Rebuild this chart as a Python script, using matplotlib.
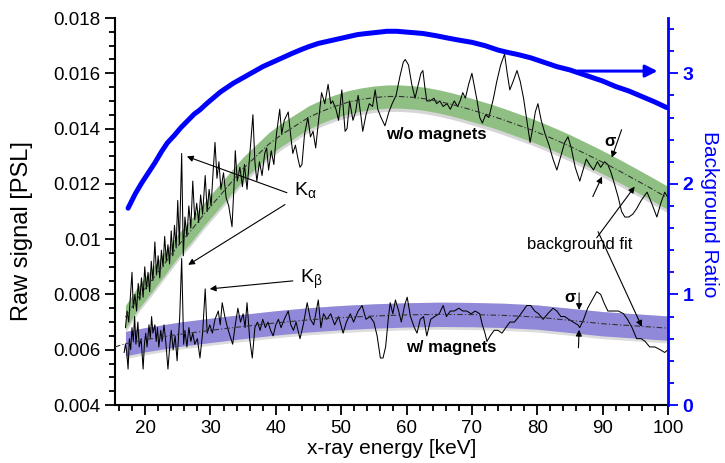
import numpy as np
import matplotlib
matplotlib.use("Agg")
import matplotlib.pyplot as plt

plt.rcParams['font.family'] = ['Liberation Sans', 'DejaVu Sans']
plt.rcParams['mathtext.fontset'] = 'custom'
plt.rcParams['mathtext.rm'] = 'Liberation Sans'
plt.rcParams['mathtext.it'] = 'Liberation Sans'

# raw signal, w/o magnets  (energy keV, PSL)
trace_wo = [
    (17.0, 0.0068), (17.25, 0.0074), (17.5, 0.0070), (17.75, 0.0079), (18.0, 0.0088),
    (18.2, 0.0075), (18.45, 0.0080), (18.7, 0.0074), (18.95, 0.0084), (19.2, 0.0078),
    (19.45, 0.0086), (19.7, 0.0079), (19.95, 0.0090), (20.2, 0.0082), (20.45, 0.0088),
    (20.7, 0.0081), (20.95, 0.0092), (21.2, 0.0085), (21.5, 0.0099), (21.75, 0.0087),
    (22.0, 0.0094), (22.25, 0.0086), (22.5, 0.0096), (22.75, 0.0090), (23.0, 0.0101),
    (23.25, 0.0092), (23.5, 0.0098), (23.75, 0.0091), (24.0, 0.0103), (24.25, 0.0094),
    (24.5, 0.0105), (24.75, 0.0097), (25.0, 0.0114), (25.25, 0.0098), (25.6, 0.0131),
    (25.85, 0.0094), (26.1, 0.0108), (26.4, 0.0101), (26.7, 0.0112), (27.0, 0.0104),
    (27.3, 0.0121), (27.6, 0.0107), (27.9, 0.0113), (28.2, 0.0106), (28.5, 0.0116),
    (28.8, 0.0109), (29.2, 0.0123), (29.5, 0.0110), (29.8, 0.0118), (30.1, 0.0112),
    (30.4, 0.0124), (30.7, 0.0135), (31.0, 0.0122), (31.3, 0.0128), (31.6, 0.0118),
    (32.0, 0.0124), (32.4, 0.0115), (32.8, 0.0112), (33.3, 0.01045), (33.6, 0.0119),
    (33.8, 0.0132), (34.1, 0.0121), (34.5, 0.0126), (34.9, 0.0119), (35.2, 0.0127),
    (35.6, 0.0118), (36.0, 0.0130), (36.5, 0.0145), (36.8, 0.0128), (37.1, 0.0121),
    (37.5, 0.0128), (37.9, 0.0123), (38.3, 0.0131), (38.6, 0.0133), (38.9, 0.0125),
    (39.3, 0.0132), (39.7, 0.0127), (40.1, 0.0138), (40.6, 0.0147), (40.9, 0.0138),
    (41.3, 0.0143), (41.9, 0.0146), (42.3, 0.0137), (42.6, 0.0131), (43.0, 0.0134),
    (43.4, 0.0129), (43.7, 0.0126), (44.0, 0.0127), (44.4, 0.0138), (44.9, 0.0144),
    (45.3, 0.0137), (45.7, 0.0139), (46.1, 0.0133), (46.5, 0.0142), (47.0, 0.0153),
    (47.5, 0.0149), (48.0, 0.0156), (48.4, 0.0149), (48.7, 0.0150), (49.2, 0.0147),
    (49.6, 0.0143), (50.1, 0.0154), (50.6, 0.0139), (50.9, 0.0140), (51.3, 0.0150),
    (51.8, 0.0143), (52.2, 0.0146), (52.6, 0.0152), (53.0, 0.0145), (53.3, 0.0139),
    (53.8, 0.0145), (54.3, 0.0149), (54.8, 0.0148), (55.2, 0.0154), (55.6, 0.0147),
    (56.1, 0.0144), (56.7, 0.0141), (57.3, 0.0146), (57.8, 0.0149), (58.4, 0.0152),
    (59.0, 0.0159), (59.5, 0.0164), (59.8, 0.0165), (60.3, 0.0163), (60.8, 0.0156),
    (61.3, 0.0151), (61.8, 0.0156), (62.2, 0.0160), (62.5, 0.0161), (62.8, 0.0155),
    (63.1, 0.0150), (63.6, 0.0150), (64.2, 0.0151), (64.6, 0.0149), (65.1, 0.0150),
    (65.6, 0.0148), (66.2, 0.0149), (66.7, 0.0147), (67.3, 0.0150), (67.8, 0.0148),
    (68.2, 0.0150), (68.6, 0.0153), (69.0, 0.0151), (69.5, 0.0156), (70.0, 0.0160),
    (70.4, 0.0155), (70.8, 0.0150), (71.2, 0.0144), (71.6, 0.0142), (72.1, 0.0145),
    (72.6, 0.0144), (73.3, 0.0151), (73.8, 0.0157), (74.4, 0.0163), (75.0, 0.0167),
    (75.4, 0.0160), (75.8, 0.0154), (76.3, 0.0157), (76.9, 0.0161), (77.4, 0.0157),
    (77.9, 0.0151), (78.4, 0.0143), (78.9, 0.0135), (79.3, 0.0140), (79.7, 0.0146),
    (80.1, 0.0149), (80.6, 0.0143), (81.2, 0.0138), (81.8, 0.0134), (82.4, 0.0129),
    (83.0, 0.0125), (83.6, 0.0130), (84.2, 0.0135), (84.7, 0.0137), (85.2, 0.0133),
    (85.8, 0.0126), (86.5, 0.0121), (87.0, 0.0125), (87.5, 0.0129), (88.0, 0.0127),
    (88.6, 0.0125), (89.2, 0.0128), (89.7, 0.0126), (90.3, 0.0128), (90.8, 0.0127),
    (91.3, 0.0124), (91.8, 0.0120), (92.4, 0.0115), (92.9, 0.0110), (93.4, 0.0108),
    (94.0, 0.0108), (94.6, 0.0109), (95.2, 0.0111), (95.9, 0.0114), (96.8, 0.0117),
    (97.5, 0.0113), (98.3, 0.0108), (98.9, 0.0113), (99.5, 0.0117), (100.0, 0.0115),
]

# raw signal, w/ magnets
trace_w = [
    (16.8, 0.0059), (17.0, 0.0062), (17.2, 0.0059), (17.4, 0.0053), (17.6, 0.0064),
    (17.8, 0.0060), (18.0, 0.0068), (18.2, 0.0063), (18.4, 0.0072), (18.6, 0.0062),
    (18.9, 0.0070), (19.1, 0.0061), (19.4, 0.0064), (19.7, 0.0053), (19.9, 0.0062),
    (20.1, 0.0066), (20.3, 0.0061), (20.6, 0.0069), (20.8, 0.0064), (21.0, 0.0072),
    (21.2, 0.0066), (21.5, 0.0069), (21.7, 0.0063), (21.9, 0.0068), (22.1, 0.0061),
    (22.4, 0.0067), (22.6, 0.0063), (22.9, 0.0069), (23.2, 0.0062), (23.5, 0.0053),
    (23.8, 0.0062), (24.0, 0.0067), (24.3, 0.0060), (24.6, 0.0065), (24.9, 0.0056),
    (25.1, 0.0064), (25.3, 0.0072), (25.6, 0.0093), (25.9, 0.0062), (26.1, 0.0067),
    (26.4, 0.0061), (26.7, 0.0068), (27.0, 0.0063), (27.3, 0.0066), (27.6, 0.0062),
    (28.0, 0.0064), (28.4, 0.0057), (28.8, 0.0066), (29.2, 0.0082), (29.5, 0.0066),
    (29.9, 0.0069), (30.3, 0.0066), (30.7, 0.0071), (31.2, 0.0074), (31.5, 0.0069),
    (31.8, 0.0077), (32.2, 0.0072), (32.6, 0.0068), (33.0, 0.0065), (33.4, 0.0062),
    (33.8, 0.0069), (34.2, 0.0075), (34.6, 0.0070), (35.0, 0.0073), (35.3, 0.0068),
    (35.6, 0.0077), (36.0, 0.0064), (36.4, 0.0057), (36.8, 0.0068), (37.2, 0.0070),
    (37.6, 0.0067), (38.0, 0.0071), (38.4, 0.0068), (38.8, 0.0070), (39.2, 0.0067),
    (39.6, 0.0065), (40.0, 0.0069), (40.4, 0.0071), (40.8, 0.0068), (41.3, 0.0071),
    (41.9, 0.0074), (42.3, 0.0069), (42.7, 0.0067), (43.1, 0.0070), (43.7, 0.0064),
    (44.2, 0.0069), (44.8, 0.0077), (45.3, 0.0071), (45.8, 0.0069), (46.5, 0.0078),
    (46.9, 0.0068), (47.3, 0.0073), (47.8, 0.0071), (48.4, 0.0073), (49.0, 0.0069),
    (49.6, 0.0072), (50.3, 0.0066), (50.8, 0.0070), (51.4, 0.0073), (51.9, 0.0070),
    (52.6, 0.0074), (53.2, 0.0076), (53.8, 0.0071), (54.4, 0.0072), (55.0, 0.0070),
    (55.5, 0.0065), (56.0, 0.0057), (56.4, 0.0057), (56.8, 0.0061), (57.2, 0.0071),
    (57.5, 0.0077), (57.9, 0.0073), (58.3, 0.0078), (58.8, 0.0074), (59.2, 0.0070),
    (59.7, 0.0076), (60.1, 0.0079), (60.6, 0.0072), (61.2, 0.0068), (61.6, 0.0066),
    (62.1, 0.0071), (62.6, 0.0072), (63.1, 0.0065), (63.7, 0.0071), (64.3, 0.0072),
    (65.0, 0.0073), (65.6, 0.0076), (66.1, 0.0072), (66.7, 0.0074), (67.3, 0.0074),
    (68.0, 0.0075), (68.6, 0.0074), (69.2, 0.0074), (69.9, 0.0073), (70.5, 0.0074),
    (71.2, 0.0073), (71.6, 0.0069), (72.0, 0.0066), (72.3, 0.0063), (72.8, 0.0065),
    (73.4, 0.0067), (74.0, 0.0067), (74.6, 0.0066), (75.2, 0.0068), (75.8, 0.0070),
    (76.5, 0.0070), (77.2, 0.0072), (77.8, 0.0074), (78.4, 0.0076), (79.0, 0.0076),
    (79.6, 0.0074), (80.2, 0.0073), (80.9, 0.0071), (81.6, 0.0073), (82.4, 0.0075),
    (83.0, 0.0074), (83.6, 0.0072), (84.2, 0.0072), (84.8, 0.0071), (85.5, 0.0070),
    (86.2, 0.0069), (86.5, 0.0068), (87.1, 0.0071), (87.7, 0.0075), (88.4, 0.0078),
    (89.1, 0.0081), (89.7, 0.0080), (90.2, 0.0077), (90.8, 0.0074), (91.6, 0.0074),
    (92.4, 0.0074), (93.2, 0.0073), (93.8, 0.0071), (94.5, 0.0068), (95.2, 0.0064),
    (95.9, 0.0064), (96.5, 0.0063), (97.2, 0.0061), (98.0, 0.0061), (98.8, 0.0060),
    (99.5, 0.0059), (100.0, 0.0060),
]

# background fits
e_fit_wo = [17, 19, 21, 23, 25, 27, 29, 31, 33, 35, 37, 39, 41, 43, 45, 47, 49, 51, 53,
            55, 57, 59, 61, 63, 65, 67, 69, 71, 73, 75, 77, 79, 81, 83, 85, 87, 89, 91,
            93, 95, 97, 99, 100]
fit_wo = [0.00718, 0.0079, 0.0085, 0.00912, 0.00975, 0.0103, 0.0109, 0.01145, 0.0120,
          0.01255, 0.0130, 0.01345, 0.0138, 0.0141, 0.0144, 0.01462, 0.0148, 0.01495,
          0.01505, 0.01512, 0.01516, 0.01516, 0.01513, 0.01507, 0.01498, 0.01487,
          0.01474, 0.0146, 0.01446, 0.0143, 0.01413, 0.01396, 0.01377, 0.01357,
          0.01336, 0.01313, 0.0129, 0.01266, 0.01241, 0.01215, 0.01189, 0.01162, 0.01149]
sigma_wo = 0.00042

e_fit_w = [15.4, 17, 20, 25, 30, 35, 40, 45, 50, 55, 60, 65, 70, 75, 80, 85, 90, 95, 100]
fit_w = [0.0061, 0.00622, 0.00636, 0.00655, 0.0067, 0.00684, 0.00697, 0.00708, 0.00716,
         0.00722, 0.00726, 0.00728, 0.00727, 0.00724, 0.00718, 0.00706, 0.00694,
         0.00686, 0.00678]
sigma_w = 0.00044

# background ratio (right axis)
e_ratio = [17.4, 18.5, 19.5, 20.5, 21.5, 22.5, 23.4, 24.5, 25.5, 26.5, 27.5, 28.4, 29.5,
           30.5, 31.5, 32.5, 33.5, 35, 36.5, 38, 39.5, 41, 42.5, 43.7, 45, 46.5, 48,
           49.5, 51, 52.5, 53.9, 55.5, 57, 58.5, 60.5, 62.5, 64.5, 66.2, 68, 70, 72, 74,
           75.4, 77, 79, 81, 83, 85, 86.5, 88, 90, 92, 94, 96, 98, 99.8]
ratio = [1.78, 1.91, 2.01, 2.10, 2.19, 2.29, 2.37, 2.44, 2.51, 2.57, 2.63, 2.67, 2.73,
         2.78, 2.83, 2.87, 2.91, 2.96, 3.01, 3.06, 3.10, 3.14, 3.18, 3.21, 3.24, 3.27,
         3.29, 3.31, 3.33, 3.35, 3.36, 3.37, 3.38, 3.38, 3.37, 3.36, 3.34, 3.32, 3.30,
         3.28, 3.25, 3.21, 3.19, 3.17, 3.14, 3.10, 3.06, 3.03, 3.00, 2.97, 2.93, 2.88,
         2.84, 2.79, 2.74, 2.69]

e_wo, sig_wo = np.array(trace_wo).T
e_w, sig_w = np.array(trace_w).T
e_fit_wo = np.array(e_fit_wo); fit_wo = np.array(fit_wo)
e_fit_w = np.array(e_fit_w); fit_w = np.array(fit_w)

fig = plt.figure(figsize=(7.25, 4.63), dpi=100)
ax = fig.add_axes([115/725, 58/463, 553/725, 387/463])

# bands with a soft grey halo
ax.fill_between(e_fit_wo, fit_wo - sigma_wo - 0.00012, fit_wo + sigma_wo - 0.00002,
                color='#d6d6d6', lw=0, zorder=1)
ax.fill_between(e_fit_wo, fit_wo - sigma_wo, fit_wo + sigma_wo,
                color='#88bd7a', alpha=0.9, lw=0, zorder=2)
m = e_fit_w >= 17
ax.fill_between(e_fit_w[m], fit_w[m] - sigma_w - 0.00010, fit_w[m] + sigma_w,
                color='#dcdcdc', lw=0, zorder=1)
ax.fill_between(e_fit_w[m], fit_w[m] - sigma_w, fit_w[m] + sigma_w,
                color='#8880da', alpha=0.9, lw=0, zorder=2)

ax.plot(e_wo, sig_wo, color='black', lw=0.75, zorder=3)
ax.plot(e_w, sig_w, color='black', lw=0.75, zorder=3)
ax.plot(e_fit_wo, fit_wo, color='#333333', lw=0.8, ls=(0, (5, 2, 1, 2)), zorder=4)
ax.plot(e_fit_w, fit_w, color='#333333', lw=0.8, ls=(0, (5, 2, 1, 2)), zorder=4)

ax.set_xlim(15.4, 100)
ax.set_ylim(0.004, 0.018)
ax.set_xticks(np.arange(20, 101, 10))
ax.set_xticks(np.arange(16, 101, 2), minor=True)
ax.set_yticks(np.arange(0.004, 0.0181, 0.002))
ax.set_yticks(np.arange(0.004, 0.0181, 0.0005), minor=True)
ax.set_yticklabels(['%g' % round(t, 3) for t in np.arange(0.004, 0.0181, 0.002)])
ax.tick_params(which='both', direction='out', width=1.3, labelsize=13.5, color='black')
ax.tick_params(which='major', length=7)
ax.tick_params(which='minor', length=4)
ax.spines['top'].set_visible(False)
ax.spines['right'].set_visible(False)
ax.spines['left'].set_linewidth(1.5)
ax.spines['bottom'].set_linewidth(1.5)
ax.set_xlabel('x-ray energy [keV]', fontsize=15, labelpad=2)
ax.set_ylabel('Raw signal [PSL]', fontsize=17)
ax.yaxis.set_label_coords(-0.148, 0.45)

ax2 = ax.twinx()
ax2.plot(e_ratio, ratio, color='#0000ff', lw=3.6, solid_capstyle='round', zorder=5)
ax2.set_ylim(0, 3.5)
ax2.set_yticks([0, 1, 2, 3])
ax2.set_yticks(np.arange(0, 3.5, 0.2), minor=True)
ax2.tick_params(which='both', direction='out', width=1.3, color='#0000ff',
                labelcolor='#0000ff', labelsize=14)
ax2.tick_params(which='major', length=7)
ax2.tick_params(which='minor', length=4)
for lab in ax2.get_yticklabels():
    lab.set_fontweight('bold')
for s in ['top', 'left', 'bottom']:
    ax2.spines[s].set_visible(False)
ax2.spines['right'].set_color('#0000ff')
ax2.spines['right'].set_linewidth(2)
ax2.set_ylabel('Background Ratio', color='#0000ff', fontsize=15, rotation=270)
ax2.yaxis.set_label_coords(1.093, 0.494)
ax2.annotate('', xy=(98.4, 3.02), xytext=(86.2, 3.02),
             arrowprops=dict(arrowstyle='-|>', color='#0000ff', lw=2.2,
                             mutation_scale=18, shrinkA=0, shrinkB=0))

arrow = dict(arrowstyle='-|>', color='black', lw=0.8, mutation_scale=9, shrinkA=0, shrinkB=0)

ax2.text(44.6, (405 - 190) / 110.5, r'K$_{\alpha}$', fontsize=14, ha='center', va='center')
ax.annotate('', xy=(26.4, 0.01299), xytext=(41.7, 0.01168), arrowprops=arrow)
ax.annotate('', xy=(26.6, 0.00907), xytext=(41.4, 0.01125), arrowprops=arrow)
ax.text(45.4, 0.00853, r'K$_{\beta}$', fontsize=14, ha='center', va='center')
ax.annotate('', xy=(29.9, 0.0082), xytext=(42.6, 0.00849), arrowprops=arrow)

ax.text(64.5, 0.01378, 'w/o magnets', fontsize=12, fontweight='bold', ha='center', va='center')
ax.text(66.8, 0.00607, 'w/ magnets', fontsize=12, fontweight='bold', ha='center', va='center')
ax.text(86.5, 0.0098, 'background fit', fontsize=12, ha='center', va='center', zorder=6)
ax.annotate('', xy=(94.9, 0.0119), xytext=(89.1, 0.01005), arrowprops=arrow)
ax.annotate('', xy=(96.0, 0.00683), xytext=(89.3, 0.01027), arrowprops=arrow)

ax.text(91.1, 0.01353, 'σ', fontsize=12, fontweight='bold', ha='center', va='center')
ax.annotate('', xy=(91.4, 0.01295), xytext=(92.9, 0.01396), arrowprops=arrow)
ax.annotate('', xy=(89.9, 0.01226), xytext=(88.5, 0.01154), arrowprops=arrow)
ax.text(85.0, 0.00788, 'σ', fontsize=12, fontweight='bold', ha='center', va='center')
ax.annotate('', xy=(86.4, 0.00744), xytext=(86.4, 0.00806), arrowprops=arrow)
ax.annotate('', xy=(86.4, 0.00672), xytext=(86.3, 0.00607), arrowprops=arrow)

fig.savefig('out.png', dpi=100)
